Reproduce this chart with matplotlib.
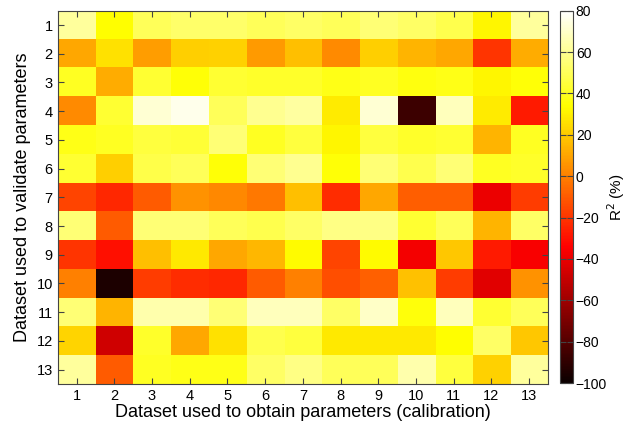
import numpy as np
import matplotlib
matplotlib.use("Agg")
import matplotlib.pyplot as plt

plt.rcParams["font.family"] = ["Liberation Sans", "DejaVu Sans"]

# R^2 (%), rows = validation dataset, cols = calibration dataset
row_1 = [62, 34, 50, 53, 53, 50, 52, 50, 55, 52, 48, 32, 62]
row_2 = [11, 26, 8, 21, 22, 7, 17, 3, 21, 14, 11, -20, 12]
row_3 = [40, 12, 43, 35, 43, 42, 42, 38, 40, 37, 38, 32, 35]
row_4 = [3, 43, 72, 76, 50, 60, 63, 29, 72, -86, 68, 29, -27]
row_5 = [38, 40, 45, 44, 55, 40, 45, 32, 45, 42, 43, 14, 40]
row_6 = [43, 21, 47, 50, 35, 55, 60, 35, 55, 48, 55, 40, 42]
row_7 = [-16, -24, -10, 5, 2, -2, 17, -22, 11, -9, -9, -39, -18]
row_8 = [55, -10, 55, 55, 50, 48, 52, 58, 58, 43, 50, 14, 52]
row_9 = [-20, -30, 17, 28, 11, 15, 33, -16, 33, -37, 19, -27, -36]
row_10 = [0, -95, -18, -22, -24, -10, 0, -13, -8, 18, -18, -42, 5]
row_11 = [55, 14, 65, 65, 55, 68, 68, 52, 70, 36, 68, 43, 50]
row_12 = [23, -47, 42, 11, 26, 48, 45, 28, 28, 28, 34, 52, 19]
row_13 = [62, -10, 40, 38, 38, 52, 58, 50, 50, 65, 45, 22, 62]

datasets = list(range(1, 14))
cbar_ticks = [-100, -80, -60, -40, -20, 0, 20, 40, 60, 80]

r2 = np.array([row_1, row_2, row_3, row_4, row_5, row_6, row_7,
               row_8, row_9, row_10, row_11, row_12, row_13])

fig = plt.figure(figsize=(6.27, 4.28), dpi=100)
ax = fig.add_axes([0.092, 0.103, 0.782, 0.872])
cax = fig.add_axes([0.893, 0.105, 0.021, 0.870])

im = ax.imshow(r2, cmap="hot", vmin=-100, vmax=80, aspect="auto",
               interpolation="nearest",
               extent=[0.5, 13.5, 13.5, 0.5])

ax.set_xticks(datasets)
ax.set_yticks(datasets)
ax.tick_params(direction="in", top=True, right=True, labelsize=10.5,
               length=4, color="#444444")
for sp in ax.spines.values():
    sp.set_color("#444444")
ax.set_xlabel("Dataset used to obtain parameters (calibration)", fontsize=13,
              labelpad=1)
ax.set_ylabel("Dataset used to validate parameters", fontsize=13, labelpad=4)

cb = fig.colorbar(im, cax=cax, ticks=cbar_ticks)
cb.ax.tick_params(direction="in", labelsize=10, length=4, color="#444444",
                  left=True, right=True, pad=2)
cb.outline.set_edgecolor("#444444")
cb.set_label("R$^2$ (%)", fontsize=11, labelpad=-1)

fig.savefig("out.png", dpi=100)
